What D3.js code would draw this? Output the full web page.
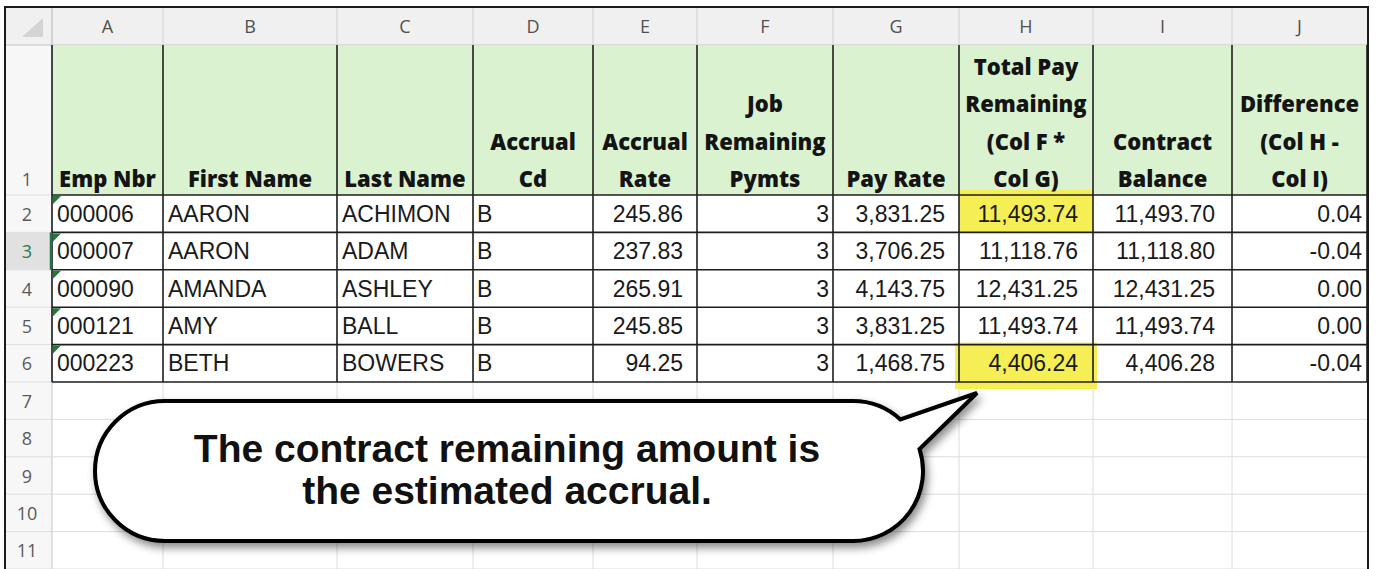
<!DOCTYPE html>
<html>
<head>
<meta charset="utf-8">
<script src="https://cdn.jsdelivr.net/npm/d3@7"></script>
<style>
  html, body { margin: 0; padding: 0; background: #fff; }
  svg { display: block; }
</style>
</head>
<body>
<div id="sheet"></div>
<script>
// ---- data ----
var colLetters = ["A", "B", "C", "D", "E", "F", "G", "H", "I", "J"]
var headers = ["Emp Nbr", "First Name", "Last Name", "Accrual\nCd", "Accrual\nRate",
    "Job\nRemaining\nPymts", "Pay Rate", "Total Pay\nRemaining\n(Col F *\nCol G)",
    "Contract\nBalance", "Difference\n(Col H -\nCol I)"]
var empNbr = ["000006", "000007", "000090", "000121", "000223"]
var firstName = ["AARON", "AARON", "AMANDA", "AMY", "BETH"]
var lastName = ["ACHIMON", "ADAM", "ASHLEY", "BALL", "BOWERS"]
var accrualCd = ["B", "B", "B", "B", "B"]
var accrualRate = [245.86, 237.83, 265.91, 245.85, 94.25]
var remainingPymts = [3, 3, 3, 3, 3]
var payRate = [3831.25, 3706.25, 4143.75, 3831.25, 1468.75]
var totalPayRemaining = [11493.74, 11118.76, 12431.25, 11493.74, 4406.24]
var contractBalance = [11493.70, 11118.80, 12431.25, 11493.74, 4406.28]
var difference = [0.04, -0.04, 0.00, 0.00, -0.04]
var rowNumbers = [1, 2, 3, 4, 5, 6, 7, 8, 9, 10, 11]
var highlightedRows = [2, 6]
var calloutLines = ["The contract remaining amount is", "the estimated accrual."]

// ---- layout ----
var colWidths = [111, 174, 136, 120, 104, 136, 126, 134, 139, 135]
var colLefts = colWidths.map(function (w, i) { return 52 + d3.sum(colWidths.slice(0, i)) })
var x = d3.scaleOrdinal().domain(colLetters).range(colLefts)
var w = d3.scaleOrdinal().domain(colLetters).range(colWidths)
var gridRight = 52 + d3.sum(colWidths)
// row tops for rows 2..12 (row 1 is the tall header row)
var y = d3.scaleLinear().domain([2, 12]).range([195, 569])
var rowH = y(3) - y(2)
function rowTop(r) { return r === 1 ? 45 : y(r) }
function rowBottom(r) { return r === 1 ? 195 : y(r + 1) }

var fmt = d3.formatLocale({ decimal: ".", thousands: ",", grouping: [3], currency: ["$", ""], minus: "-" })
var money = fmt.format(",.2f")

var columns = [
    { key: "A", values: empNbr, align: "left", pad: 5 },
    { key: "B", values: firstName, align: "left", pad: 5 },
    { key: "C", values: lastName, align: "left", pad: 5 },
    { key: "D", values: accrualCd, align: "left", pad: 4 },
    { key: "E", values: accrualRate.map(money), align: "right", pad: 14 },
    { key: "F", values: remainingPymts.map(String), align: "right", pad: 4 },
    { key: "G", values: payRate.map(money), align: "right", pad: 14 },
    { key: "H", values: totalPayRemaining.map(money), align: "right", pad: 15 },
    { key: "I", values: contractBalance.map(money), align: "right", pad: 17 },
    { key: "J", values: difference.map(money), align: "right", pad: 5 }
]

var svg = d3.select("#sheet")
    .append("svg")
    .attr("width", 1381)
    .attr("height", 569)

var defs = svg.append("defs")
var shadow = defs.append("filter").attr("id", "shadow")
    .attr("x", "-10%").attr("y", "-20%").attr("width", "130%").attr("height", "150%")
shadow.append("feDropShadow")
    .attr("dx", 3).attr("dy", 5).attr("stdDeviation", 4)
    .attr("flood-color", "#000").attr("flood-opacity", 0.45)

// column header strip + row header strip
svg.append("rect").attr("x", 5).attr("y", 7).attr("width", gridRight - 5).attr("height", 38).style("fill", "#f0f0f0")
svg.append("rect").attr("x", 5).attr("y", 45).attr("width", 47).attr("height", 524).style("fill", "#f7f7f7")
svg.append("rect").attr("x", 5).attr("y", rowTop(3)).attr("width", 47).attr("height", rowH).style("fill", "#e1e1e1")
svg.append("path").attr("d", "M43,18 L43,37 L22,37 Z").style("fill", "#d4d4d4")

// column header separators and letters
var colHead = svg.append("g").attr("class", "colHead")
colHead.selectAll("line")
    .data(colLetters)
    .enter()
    .append("line")
    .attr("x1", function (d) { return x(d) }).attr("x2", function (d) { return x(d) })
    .attr("y1", 8).attr("y2", 45)
    .style("stroke", "#d0d0d0")
colHead.selectAll("text")
    .data(colLetters)
    .enter()
    .append("text")
    .attr("x", function (d) { return x(d) + w(d) / 2 })
    .attr("y", 33)
    .attr("text-anchor", "middle")
    .style("font-family", "'Open Sans', sans-serif")
    .style("font-size", "18px")
    .style("fill", "#505050")
    .text(function (d) { return d })
svg.append("line").attr("x1", 5).attr("x2", gridRight).attr("y1", 45).attr("y2", 45).style("stroke", "#c4c4c4")
svg.append("line").attr("x1", 52).attr("x2", 52).attr("y1", 7).attr("y2", 569).style("stroke", "#c4c4c4")

// row numbers
var rowHead = svg.append("g").attr("class", "rowHead")
rowHead.selectAll("line")
    .data(rowNumbers)
    .enter()
    .append("line")
    .attr("x1", 5).attr("x2", 52)
    .attr("y1", function (d) { return rowBottom(d) }).attr("y2", function (d) { return rowBottom(d) })
    .style("stroke", "#dedede")
rowHead.selectAll("text")
    .data(rowNumbers)
    .enter()
    .append("text")
    .attr("x", 27)
    .attr("y", function (d) { return d === 1 ? 186 : rowTop(d) + rowH / 2 + 7 })
    .attr("text-anchor", "middle")
    .style("font-family", "'Open Sans', sans-serif")
    .style("font-size", "18px")
    .style("fill", function (d) { return d === 3 ? "#2a7a4c" : "#5a5a5a" })
    .text(function (d) { return d })

// header row fill
svg.append("rect").attr("x", 53).attr("y", 46).attr("width", gridRight - 53).attr("height", 149).style("fill", "#daf2d0")

// light gridlines for empty rows 7-11
var grid = svg.append("g").attr("class", "grid")
grid.selectAll("line.h")
    .data(d3.range(7, 12))
    .enter()
    .append("line")
    .attr("class", "h")
    .attr("x1", 52).attr("x2", gridRight)
    .attr("y1", function (d) { return rowBottom(d) }).attr("y2", function (d) { return rowBottom(d) })
    .style("stroke", "#dcdcdc")
grid.selectAll("line.v")
    .data(colLetters.slice(1))
    .enter()
    .append("line")
    .attr("class", "v")
    .attr("x1", function (d) { return x(d) }).attr("x2", function (d) { return x(d) })
    .attr("y1", rowTop(7)).attr("y2", 569)
    .style("stroke", "#dcdcdc")

// yellow highlighter on column H
svg.append("g").attr("class", "highlight")
    .selectAll("rect")
    .data(highlightedRows)
    .enter()
    .append("rect")
    .attr("x", function (d, i) { return x("H") - (i ? 4 : 0) })
    .attr("y", function (d, i) { return rowTop(d) - (i ? 2 : 5) })
    .attr("width", function (d, i) { return w("H") + (i ? 8 : 0) })
    .attr("height", function (d, i) { return rowH + (i ? 9 : 5) })
    .style("fill", "#f6ee55")

// black cell borders A1:J6
var borders = svg.append("g").attr("class", "borders")
borders.selectAll("line.v")
    .data(colLetters.concat(["end"]))
    .enter()
    .append("line")
    .attr("class", "v")
    .attr("x1", function (d) { return d === "end" ? gridRight : x(d) })
    .attr("x2", function (d) { return d === "end" ? gridRight : x(d) })
    .attr("y1", 45).attr("y2", rowBottom(6))
    .style("stroke", "#1e1e1e").style("stroke-width", 1.6)
borders.selectAll("line.h")
    .data(d3.range(1, 7))
    .enter()
    .append("line")
    .attr("class", "h")
    .attr("x1", 52).attr("x2", gridRight)
    .attr("y1", function (d) { return rowBottom(d) }).attr("y2", function (d) { return rowBottom(d) })
    .style("stroke", "#1e1e1e").style("stroke-width", 1.6)

// selection marker on row 3
svg.append("line").attr("x1", 51).attr("x2", 51).attr("y1", rowTop(3)).attr("y2", rowBottom(3))
    .style("stroke", "#217346").style("stroke-width", 2.5)

// header text (bottom aligned, centered, wrapped)
var headG = svg.append("g").attr("class", "headers")
headG.selectAll("text")
    .data(headers)
    .enter()
    .append("text")
    .attr("text-anchor", "middle")
    .style("font-family", "'Open Sans', sans-serif")
    .style("font-weight", 800)
    .style("font-size", "22px")
    .style("fill", "#141414")
    .each(function (d, i) {
        var lines = d.split("\n")
        var c = colLetters[i]
        d3.select(this).selectAll("tspan")
            .data(lines)
            .enter()
            .append("tspan")
            .attr("x", x(c) + w(c) / 2)
            .attr("y", function (l, j) { return 187 - (lines.length - 1 - j) * rowH })
            .text(function (l) { return l })
    })

// cell values
var body = svg.append("g").attr("class", "body")
columns.forEach(function (col) {
    body.selectAll("text.c" + col.key)
        .data(col.values)
        .enter()
        .append("text")
        .attr("class", "c" + col.key)
        .attr("x", col.align === "left" ? x(col.key) + col.pad : x(col.key) + w(col.key) - col.pad)
        .attr("y", function (d, i) { return rowTop(i + 2) + rowH / 2 + 8 })
        .attr("text-anchor", col.align === "left" ? "start" : "end")
        .style("font-family", "'Liberation Sans', Arial, sans-serif")
        .style("font-size", "23px")
        .style("fill", "#1a1a1a")
        .text(function (d) { return d })
})

// green "number stored as text" flags
body.selectAll("path.flag")
    .data(empNbr)
    .enter()
    .append("path")
    .attr("class", "flag")
    .attr("d", function (d, i) {
        var t = rowTop(i + 2) + 1
        return "M53," + t + " L61," + t + " L53," + (t + 8) + " Z"
    })
    .style("fill", "#1e7a36")

// callout bubble
var cy = 471, r = 70
var leftC = 165, rightC = 853
var tip = [977, 393]
var a1 = Math.atan2(-49, 45), a2 = Math.atan2(-21, 64)
var p = d3.path()
p.moveTo(leftC, cy - r)
p.lineTo(rightC, cy - r)
p.arc(rightC, cy, r, -Math.PI / 2, a1)
p.lineTo(tip[0], tip[1])
p.lineTo(rightC + r * Math.cos(a2), cy + r * Math.sin(a2))
p.arc(rightC, cy, r, a2, Math.PI / 2)
p.lineTo(leftC, cy + r)
p.arc(leftC, cy, r, Math.PI / 2, Math.PI * 1.5)
p.closePath()

var bubble = svg.append("g").attr("class", "callout")
bubble.append("path")
    .attr("d", p.toString())
    .style("fill", "#fff")
    .style("stroke", "#000")
    .style("stroke-width", 4)
    .style("stroke-linejoin", "miter")
    .attr("filter", "url(#shadow)")
bubble.selectAll("text")
    .data(calloutLines)
    .enter()
    .append("text")
    .attr("x", 507)
    .attr("y", function (d, i) { return 462 + i * 42 })
    .attr("text-anchor", "middle")
    .style("font-family", "'Liberation Sans', Arial, sans-serif")
    .style("font-weight", 700)
    .style("font-size", "39px")
    .style("fill", "#111")
    .text(function (d) { return d })

// screenshot frame
svg.append("rect")
    .attr("x", 5).attr("y", 7).attr("width", 1363).attr("height", 575)
    .style("fill", "none")
    .style("stroke", "#1a1a1a")
    .style("stroke-width", 2)
</script>
</body>
</html>
